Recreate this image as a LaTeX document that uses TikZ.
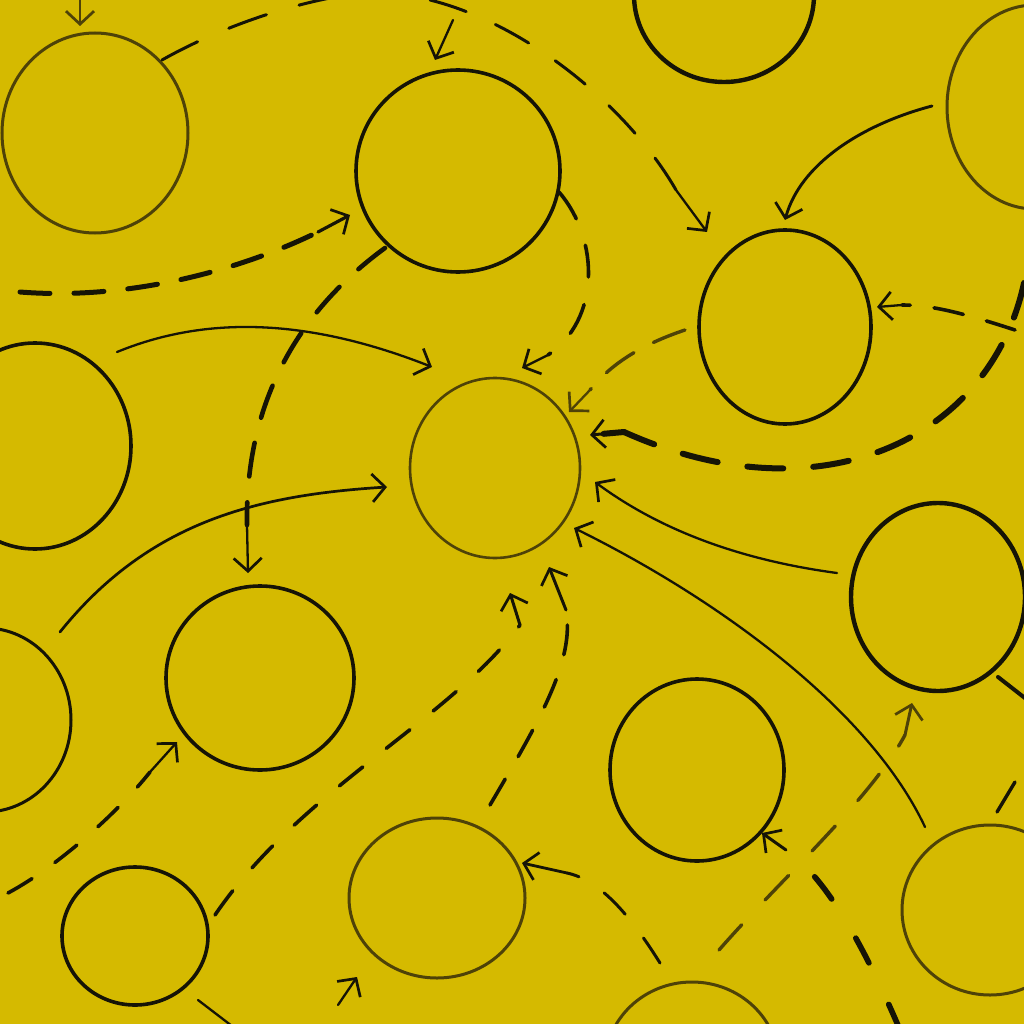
\documentclass[tikz,border=0pt]{standalone}
\usetikzlibrary{shapes.geometric,arrows.meta,calc}
\definecolor{mustard}{RGB}{213,186,0}
\definecolor{ink}{RGB}{22,20,6}
\definecolor{softink}{RGB}{78,66,8}
\begin{document}
\begin{tikzpicture}[x=1pt,y=-1pt,
  blob/.style={ellipse,draw=ink,line width=3.6pt,inner sep=0pt},
  faintblob/.style={blob,draw=softink,line width=3pt},
  solidc/.style={draw=ink,line width=2.3pt,line cap=round},
  faintc/.style={draw=softink,line width=2.3pt,line cap=round},
  dashc/.style={draw=ink,line width=3.6pt,line cap=round,dash pattern=on 32pt off 28pt},
  faintdash/.style={draw=softink,line width=3.4pt,line cap=round,dash pattern=on 30pt off 28pt},
  thickdash/.style={draw=ink,line width=6pt,line cap=round,dash pattern=on 34pt off 28pt},
  barb/.style={-{Straight Barb[length=13pt,width=28pt,line width=2.7pt]}},
]
\useasboundingbox (0,0) rectangle (1024,1024);
\fill[mustard] (0,0) rectangle (1024,1024);
\clip (0,0) rectangle (1024,1024);

% circles
\node[faintblob,minimum width=186pt,minimum height=200pt] (c1) at (95,133) {};
\node[blob,minimum width=204pt,minimum height=202pt] (c2) at (458,171) {};
\node[blob,line width=4.4pt,minimum width=180pt,minimum height=174pt] (c3) at (724,-5) {};
\node[faintblob,minimum width=176pt,minimum height=204pt] (c4) at (1035,107) {};
\node[blob,minimum width=172pt,minimum height=194pt] (c5) at (785,327) {};
\node[faintblob,line width=2.6pt,minimum width=170pt,minimum height=180pt] (c6) at (495,468) {};
\node[blob,minimum width=192pt,minimum height=206pt] (c7) at (35,446) {};
\node[blob,line width=4.4pt,minimum width=174pt,minimum height=188pt] (c8) at (938,597) {};
\node[blob,minimum width=188pt,minimum height=184pt] (c9) at (260,678) {};
\node[blob,line width=3pt,minimum width=172pt,minimum height=184pt] (c10) at (-15,720) {};
\node[blob,minimum width=174pt,minimum height=182pt] (c11) at (697,770) {};
\node[blob,minimum width=146pt,minimum height=138pt] (c12) at (135,936) {};
\node[faintblob,minimum width=176pt,minimum height=160pt] (c13) at (437,898) {};
\node[faintblob,minimum width=176pt,minimum height=170pt] (c14) at (990,910) {};
\node[faintblob,minimum width=174pt,minimum height=166pt] (c15) at (692,1065) {};

% end points
\coordinate (a1s) at (80,-2);   \coordinate (a1t) at (80,26);
\coordinate (d1s) at (162,60);  \coordinate (d1t) at (330,-2);
\coordinate (d2s) at (430,0);   \coordinate (d2m) at (676,190); \coordinate (d2t) at (707,232);
\coordinate (a2s) at (453,20);  \coordinate (a2t) at (435,60);
\coordinate (d3s) at (20,292);  \coordinate (d3m) at (318,232); \coordinate (d3t) at (350,215);
\coordinate (d4s) at (385,248); \coordinate (d4m) at (247,525); \coordinate (d4t) at (248,573);
\coordinate (s1s) at (117,352); \coordinate (s1t) at (432,367);
\coordinate (d5s) at (559,192); \coordinate (d5m) at (548,355); \coordinate (d5t) at (522,368);
\coordinate (s2s) at (932,106); \coordinate (s2t) at (785,220);
\coordinate (d6s) at (1015,330);\coordinate (d6m) at (902,305); \coordinate (d6t) at (877,307);
\coordinate (d7s) at (685,330); \coordinate (d7m) at (590,390); \coordinate (d7t) at (569,412);
\coordinate (d8s) at (1024,283);\coordinate (d8m) at (624,432); \coordinate (d8t) at (590,435);
\coordinate (s3s) at (837,573); \coordinate (s3t) at (595,482);
\coordinate (s4s) at (925,827); \coordinate (s4t) at (574,528);
\coordinate (s5s) at (60,632);  \coordinate (s5t) at (387,487);
\coordinate (d9s) at (490,805); \coordinate (d9m) at (566,610); \coordinate (d9t) at (549,567);
\coordinate (d10s) at (215,915);\coordinate (d10m) at (520,625);\coordinate (d10t) at (510,593);
\coordinate (d11s) at (8,893);  \coordinate (d11m) at (150,772);\coordinate (d11t) at (177,742);
\coordinate (d12s) at (900,1030);\coordinate (d12m) at (786,850);\coordinate (d12t) at (762,833);
\coordinate (d13s) at (660,963);\coordinate (d13m) at (567,873);\coordinate (d13t) at (522,863);
\coordinate (d14s) at (719,950);\coordinate (d14m) at (905,735);\coordinate (d14t) at (912,703);
\coordinate (a3s) at (338,1005);\coordinate (a3t) at (357,977);
\coordinate (e1s) at (998,677); \coordinate (e1t) at (1030,702);
\coordinate (e2s) at (1015,782);\coordinate (e2t) at (997,812);
\coordinate (e3s) at (198,1000);\coordinate (e3t) at (232,1026);

% solid connectors
\draw[faintc,barb] (a1s) -- (a1t);
\draw[solidc,barb] (a2s) -- (a2t);
\draw[solidc,barb] (s1s) .. controls (200,318) and (300,315) .. (s1t);
\draw[solidc,line width=2.9pt,barb] (s2s) .. controls (860,125) and (800,165) .. (s2t);
\draw[solidc,barb] (s3s) .. controls (740,560) and (660,530) .. (s3t);
\draw[solidc,barb] (s4s) .. controls (870,710) and (720,600) .. (s4t);
\draw[solidc,line width=2.7pt,barb] (s5s) .. controls (150,520) and (260,495) .. (s5t);
\draw[solidc,barb] (a3s) -- (a3t);
\draw[solidc,line width=4pt] (e1s) -- (e1t);
\draw[solidc,line width=3.4pt] (e2s) -- (e2t);
\draw[solidc] (e3s) -- (e3t);

% dashed connectors
\draw[dashc,line width=3pt,dash pattern=on 40pt off 34pt] (d1s) .. controls (210,33) and (270,10) .. (d1t);
\draw[dashc,line width=3pt,dash pattern=on 38pt off 32pt] (d2s) .. controls (530,25) and (630,110) .. (d2m);
\draw[solidc,barb] (d2m) -- (d2t);
\draw[thickdash,line width=5pt,dash pattern=on 30pt off 24pt] (d3s) .. controls (120,300) and (230,275) .. (d3m);
\draw[solidc,line width=3.2pt,barb] (d3m) -- (d3t);
\draw[thickdash,line width=4.6pt,dash pattern=on 34pt off 26pt] (d4s) .. controls (300,310) and (245,400) .. (d4m);
\draw[solidc,barb] (d4m) -- (d4t);
\draw[dashc,dash pattern=on 32pt off 28pt] (d5s) .. controls (600,240) and (600,320) .. (d5m);
\draw[solidc,barb] (d5m) -- (d5t);
\draw[dashc,dash pattern=on 30pt off 24pt] (d6s) .. controls (960,312) and (930,305) .. (d6m);
\draw[solidc,barb] (d6m) -- (d6t);
\draw[faintdash,dash pattern=on 34pt off 22pt] (d7s) .. controls (640,345) and (610,365) .. (d7m);
\draw[faintc,barb] (d7m) -- (d7t);
\draw[thickdash,dash pattern=on 36pt off 30pt] (d8s) .. controls (990,440) and (820,520) .. (d8m);
\draw[solidc,line width=6pt] (d8m) -- ($(d8m)!0.6!(d8t)$);
\draw[solidc,line width=3pt,barb] (d8m) -- (d8t);
\draw[dashc,dash pattern=on 30pt off 26pt] (d9s) .. controls (540,720) and (575,660) .. (d9m);
\draw[solidc,line width=3pt,barb] (d9m) -- (d9t);
\draw[dashc,dash pattern=on 30pt off 30pt] (d10s) .. controls (300,790) and (450,720) .. (d10m);
\draw[solidc,line width=3pt,barb] (d10m) -- (d10t);
\draw[dashc,dash pattern=on 28pt off 28pt] (d11s) .. controls (60,865) and (120,810) .. (d11m);
\draw[solidc,barb] (d11m) -- (d11t);
\draw[thickdash,line width=5.6pt,dash pattern=on 28pt off 46pt] (d12s) .. controls (870,960) and (830,880) .. (d12m);
\draw[solidc,line width=3pt,barb] (d12m) -- (d12t);
\draw[dashc,line width=3pt,dash pattern=on 30pt off 30pt] (d13s) .. controls (630,915) and (600,880) .. (d13m);
\draw[solidc,line width=2.8pt,barb] (d13m) -- (d13t);
\draw[faintdash,dash pattern=on 34pt off 34pt] (d14s) .. controls (780,880) and (870,800) .. (d14m);
\draw[faintc,line width=3pt,barb] (d14m) -- (d14t);
\end{tikzpicture}
\end{document}
